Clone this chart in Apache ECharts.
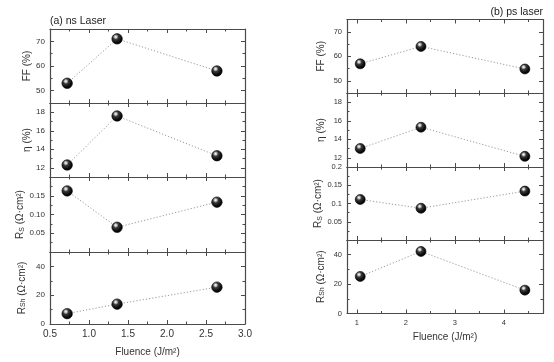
<!DOCTYPE html>
<html>
<head>
<meta charset="utf-8">
<script src="https://cdn.jsdelivr.net/npm/echarts@6/dist/echarts.min.js"></script>
<style>html,body{margin:0;padding:0;background:#fff}#c{width:554px;height:362px}</style>
</head>
<body>
<div id="c"></div>
<script>
// ---------- data ----------
const fluenceNs = [0.72, 1.36, 2.64];
const ffNs = [53, 71, 58];
const etaNs = [12.3, 17.6, 13.3];
const rsNs = [0.163, 0.066, 0.133];
const rshNs = [7.2, 13.8, 25.6];

const fluencePs = [1.07, 2.31, 4.43];
const ffPs = [56.9, 64, 54.8];
const etaPs = [13.0, 15.3, 12.15];
const rsPs = [0.111, 0.087, 0.134];
const rshPs = [25.2, 42.2, 15.9];

const xTicksNs = [0.5, 1.0, 1.5, 2.0, 2.5, 3.0];
const xTickLabelsNs = ['0.5', '1.0', '1.5', '2.0', '2.5', '3.0'];
const xMinorNs = [0.75, 1.25, 1.75, 2.25, 2.75];
const xTicksPs = [1, 2, 3, 4];
const xTickLabelsPs = ['1', '2', '3', '4'];
const xMinorPs = [1.5, 2.5, 3.5, 4.5];

const ffTicks = [50, 60, 70];
const ffMinor = [55, 65];
const etaTicks = [12, 14, 16, 18];
const etaMinor = [13, 15, 17];
const rsTicksNs = [0.05, 0.10, 0.15];
const rsLabelsNs = ['0.05', '0.10', '0.15'];
const rsTicksPs = [0.05, 0.1, 0.15, 0.2];
const rsLabelsPs = ['0.05', '0.1', '0.15', '0.2'];
const rsMinor = [0.025, 0.075, 0.125, 0.175];
const rshTicks = [0, 20, 40];
const rshMinor = [10, 30];

const titleNs = '(a) ns Laser';
const titlePs = '(b) ps laser';
const xName = 'Fluence (J/m²)';

// ---------- layout / styles ----------
const FONT = '"Liberation Sans", Arial, sans-serif';
const TXT = '#333';
const AX = '#4a4a4a';

const panelDefs = [
  {min: 45, max: 75, maj: ffTicks, minr: ffMinor, name: 'FF (%)'},
  {min: 11, max: 19, maj: etaTicks, minr: etaMinor, name: 'η (%)'},
  {min: 0, max: 0.2, minr: rsMinor, name: '{n|R}{s|S}{n| (Ω·cm²)}'},
  {min: 0, max: 50, maj: rshTicks, minr: rshMinor, name: '{n|R}{s|Sh}{n| (Ω·cm²)}'}
];

const sides = [
  {xs: fluenceNs, ys: [ffNs, etaNs, rsNs, rshNs], left: 50, width: 195,
   edges: [29, 103, 177, 252, 324], xmin: 0.5, xmax: 3.0,
   xMaj: xTicksNs, xLab: xTickLabelsNs, xMinr: xMinorNs,
   rsMaj: rsTicksNs, rsLab: rsLabelsNs,
   yFont: 8, xFont: 10, nameGaps: [15, 15, 24, 23], xNameGap: 23, sym: 10.5},
  {xs: fluencePs, ys: [ffPs, etaPs, rsPs, rshPs], left: 347, width: 196,
   edges: [19.5, 93, 167, 240, 313.5], xmin: 0.8, xmax: 4.8,
   xMaj: xTicksPs, xLab: xTickLabelsPs, xMinr: xMinorPs,
   rsMaj: rsTicksPs, rsLab: rsLabelsPs,
   yFont: 7.5, xFont: 7.5, nameGaps: [21, 21, 21, 21], xNameGap: 19, sym: 10}
];

function labelFmt(vals, labs) {
  return function (v) {
    for (let i = 0; i < vals.length; i++) if (Math.abs(vals[i] - v) < 1e-9) return labs[i];
    return String(v);
  };
}

const grid = [], xAxis = [], yAxis = [], series = [];
const ball = {
  type: 'radial', x: 0.38, y: 0.32, r: 0.75,
  colorStops: [
    {offset: 0, color: '#ffffff'},
    {offset: 0.14, color: '#c4c4c4'},
    {offset: 0.32, color: '#3a3a3a'},
    {offset: 0.7, color: '#0a0a0a'},
    {offset: 1, color: '#000000'}
  ]
};

sides.forEach(function (s) {
  panelDefs.forEach(function (p, pi) {
    const gi = grid.length;
    const top = s.edges[pi], bottom = s.edges[pi + 1];
    grid.push({left: s.left, width: s.width, top: top, height: bottom - top, outerBoundsMode: 'none'});
    const isLast = pi === panelDefs.length - 1;
    const maj = pi === 2 ? s.rsMaj : p.maj;
    const labs = pi === 2 ? s.rsLab : p.maj.map(String);

    const xBase = {type: 'value', gridIndex: gi, min: s.xmin, max: s.xmax, splitLine: {show: false}};
    const xi = xAxis.length;
    xAxis.push(Object.assign({}, xBase, {
      position: 'bottom',
      axisLine: {show: true, onZero: false, lineStyle: {color: AX, width: 1.2}},
      axisTick: {show: true, inside: true, length: 4, customValues: s.xMaj, lineStyle: {color: AX}},
      axisLabel: {show: isLast, customValues: s.xMaj, formatter: labelFmt(s.xMaj, s.xLab),
        fontSize: s.xFont, color: TXT, fontFamily: FONT, margin: 5},
      name: isLast ? xName : '', nameLocation: 'middle', nameGap: s.xNameGap,
      nameTextStyle: {fontSize: 10, color: TXT, fontFamily: FONT}
    }));
    xAxis.push(Object.assign({}, xBase, {
      position: 'bottom', axisLine: {show: false, onZero: false},
      axisTick: {show: true, inside: true, length: 2.5, customValues: s.xMinr, lineStyle: {color: AX}},
      axisLabel: {show: false}
    }));
    xAxis.push(Object.assign({}, xBase, {
      position: 'top',
      axisLine: {show: true, onZero: false, lineStyle: {color: AX, width: 1.2}},
      axisTick: {show: true, inside: true, length: 4, customValues: s.xMaj, lineStyle: {color: AX}},
      axisLabel: {show: false}
    }));
    xAxis.push(Object.assign({}, xBase, {
      position: 'top', axisLine: {show: false, onZero: false},
      axisTick: {show: true, inside: true, length: 2.5, customValues: s.xMinr, lineStyle: {color: AX}},
      axisLabel: {show: false}
    }));

    const yBase = {type: 'value', gridIndex: gi, min: p.min, max: p.max, splitLine: {show: false}};
    const yi = yAxis.length;
    yAxis.push(Object.assign({}, yBase, {
      position: 'left',
      axisLine: {show: true, onZero: false, lineStyle: {color: AX, width: 1.2}},
      axisTick: {show: true, inside: true, length: 4, customValues: maj, lineStyle: {color: AX}},
      axisLabel: {show: true, customValues: maj, formatter: labelFmt(maj, labs),
        fontSize: s.yFont, color: TXT, fontFamily: FONT, margin: 5},
      name: p.name, nameLocation: 'middle', nameGap: s.nameGaps[pi], nameRotate: 90,
      nameTextStyle: {fontSize: 10, color: TXT, fontFamily: FONT,
        rich: {
          n: {fontSize: 10, color: TXT, fontFamily: FONT, lineHeight: 13, verticalAlign: 'bottom'},
          s: {fontSize: 7, color: TXT, fontFamily: FONT, lineHeight: 7, verticalAlign: 'bottom'}
        }}
    }));
    yAxis.push(Object.assign({}, yBase, {
      position: 'left', axisLine: {show: false, onZero: false},
      axisTick: {show: true, inside: true, length: 2.5, customValues: p.minr, lineStyle: {color: AX}},
      axisLabel: {show: false}
    }));
    yAxis.push(Object.assign({}, yBase, {
      position: 'right',
      axisLine: {show: true, onZero: false, lineStyle: {color: AX, width: 1.2}},
      axisTick: {show: true, inside: true, length: 4, customValues: maj, lineStyle: {color: AX}},
      axisLabel: {show: false}
    }));
    yAxis.push(Object.assign({}, yBase, {
      position: 'right', axisLine: {show: false, onZero: false},
      axisTick: {show: true, inside: true, length: 2.5, customValues: p.minr, lineStyle: {color: AX}},
      axisLabel: {show: false}
    }));

    series.push({
      type: 'line', xAxisIndex: xi, yAxisIndex: yi,
      data: s.xs.map(function (x, i) { return [x, s.ys[pi][i]]; }),
      symbol: 'circle', symbolSize: s.sym, showSymbol: true,
      itemStyle: {color: ball, borderColor: '#000', borderWidth: 0.6},
      lineStyle: {color: '#9a9a9a', width: 1, type: [1.2, 2]},
      emphasis: {disabled: true}, animation: false, z: 3
    });
  });
});

const chart = echarts.init(document.getElementById('c'), null, {renderer: 'canvas'});
chart.setOption({
  backgroundColor: '#fff',
  animation: false,
  title: [
    {text: titleNs, left: 50, top: 16, padding: 0, textStyle: {fontSize: 10.5, fontWeight: 'normal', color: '#222', fontFamily: FONT}},
    {text: titlePs, right: 11, top: 7, padding: 0, textStyle: {fontSize: 10.5, fontWeight: 'normal', color: '#222', fontFamily: FONT}}
  ],
  grid: grid, xAxis: xAxis, yAxis: yAxis, series: series
});
</script>
</body>
</html>
